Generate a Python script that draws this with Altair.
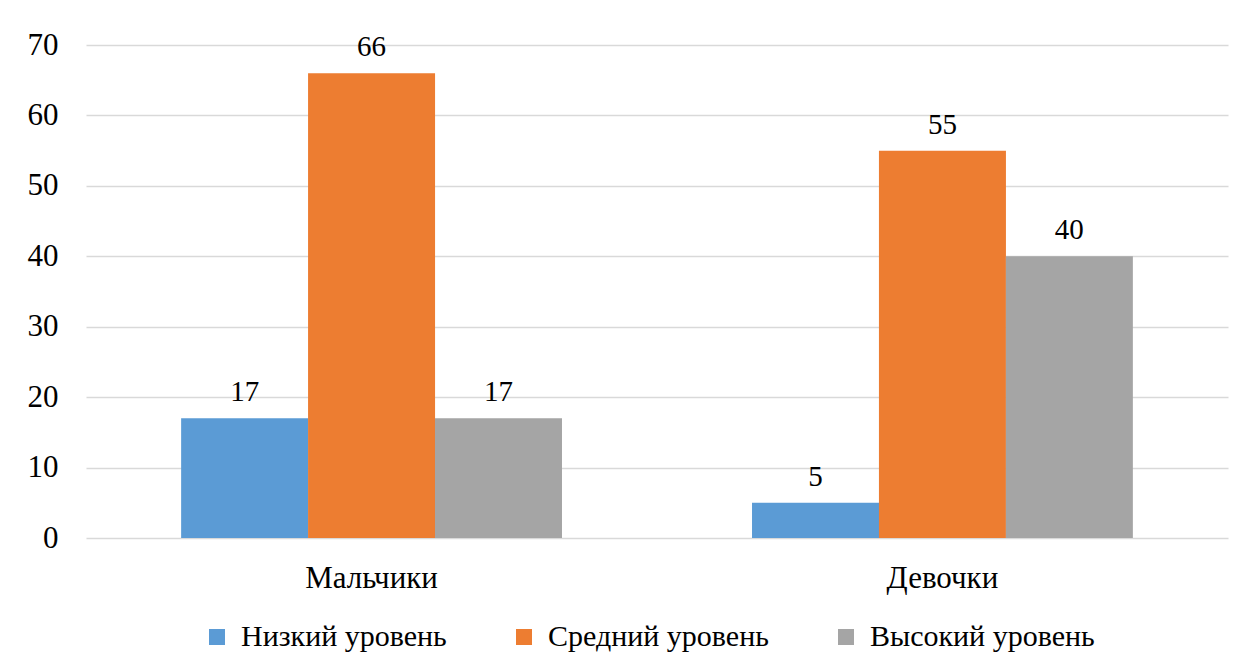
import altair as alt
import pandas as pd

groups = ["Мальчики", "Девочки"]
levels = ["Низкий уровень", "Средний уровень", "Высокий уровень"]
values_boys = [17, 66, 17]
values_girls = [5, 55, 40]
colors = ["#5B9BD5", "#ED7D31", "#A5A5A5"]
y_ticks = [0, 10, 20, 30, 40, 50, 60, 70]

rows = []
for g, vals in zip(groups, [values_boys, values_girls]):
    for lvl, v in zip(levels, vals):
        rows.append({"group": g, "level": lvl, "value": v})
df = pd.DataFrame(rows)

FONT = "Liberation Serif"

x_enc = alt.X("group:N", sort=groups, title=None,
              scale=alt.Scale(paddingInner=0.333, paddingOuter=0.1667),
              axis=alt.Axis(labelAngle=0, labelFontSize=31, labelFont=FONT,
                            labelColor="#000000", labelPadding=25, ticks=False,
                            domain=False))
xo_enc = alt.XOffset("level:N", sort=levels, scale=alt.Scale(paddingInner=0, paddingOuter=0))
y_enc = alt.Y("value:Q", title=None,
              scale=alt.Scale(domain=[0, 70], nice=False),
              axis=alt.Axis(values=y_ticks, labelFontSize=31, labelFont=FONT,
                            labelColor="#000000", labelPadding=28, ticks=False,
                            domain=False, grid=True, gridColor="#d9d9d9",
                            gridWidth=1.5, minExtent=81, maxExtent=81))

bars = alt.Chart(df).mark_bar(size=127).encode(
    x=x_enc,
    xOffset=xo_enc,
    y=y_enc,
    color=alt.Color("level:N", sort=levels,
                    scale=alt.Scale(domain=levels, range=colors),
                    legend=alt.Legend(title=None, orient="none", direction="horizontal",
                                      legendX=116, legendY=577,
                                      symbolType="square", symbolSize=256,
                                      symbolStrokeWidth=0,
                                      labelFontSize=30, labelFont=FONT,
                                      labelColor="#000000", columnPadding=62,
                                      labelOffset=9, labelLimit=0)),
)

labels = alt.Chart(df).mark_text(dy=-26, fontSize=29, font=FONT, color="#000000").encode(
    x=alt.X("group:N", sort=groups),
    xOffset=alt.XOffset("level:N", sort=levels),
    y=alt.Y("value:Q"),
    text=alt.Text("value:Q"),
)

font_probe = alt.Chart(alt.Data(values=[{}])).mark_text(
    font=FONT, fontSize=10, opacity=0, align="left", text="Serif Aa"
).encode(x=alt.value(20), y=alt.value(20))

chart = alt.layer(bars, labels, font_probe).properties(
    width=1142, height=493,
    title=alt.TitleParams(text="\u00a0", fontSize=14, offset=10, font=FONT),
).configure_view(strokeWidth=0)

chart.save("out.html", embed_options={"renderer": "svg", "actions": False})
